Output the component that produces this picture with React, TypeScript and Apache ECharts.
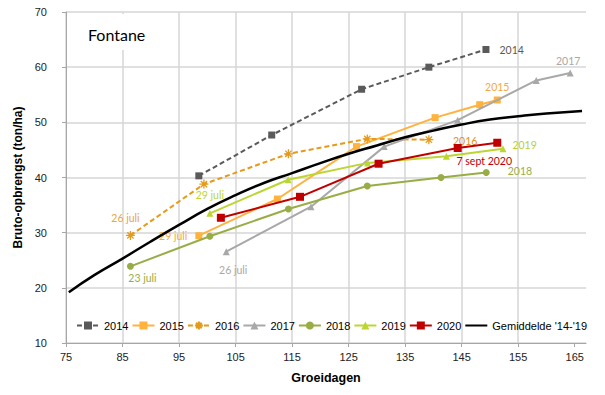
import React, { useEffect, useRef } from "react";
import * as echarts from "echarts";

// ---------- data ----------
const xTickValues = [75, 85, 95, 105, 115, 125, 135, 145, 155, 165];
const yTickValues = [10, 20, 30, 40, 50, 60, 70];

const days2014 = [98.5, 111.4, 127.3, 139.2, 149.3];
const yield2014 = [40.3, 47.7, 56.0, 60.0, 63.2];

const days2015 = [98.5, 112.4, 126.4, 140.3, 148.2, 151.3];
const yield2015 = [29.45, 36.1, 45.6, 50.85, 53.2, 54.05];

const days2016 = [86.4, 99.4, 114.35, 128.3, 139.2];
const yield2016 = [29.5, 38.8, 44.3, 47.0, 46.85];

const days2017 = [103.35, 118.35, 131.3, 144.3, 158.2, 164.2];
const yield2017 = [26.55, 34.7, 45.6, 50.4, 57.6, 58.95];

const days2018 = [86.4, 100.45, 114.35, 128.3, 141.35, 149.35];
const yield2018 = [23.9, 29.35, 34.3, 38.45, 40.0, 40.9];

const days2019 = [100.45, 114.3, 128.35, 142.3, 152.3];
const yield2019 = [33.5, 39.6, 42.65, 43.85, 45.2];

const days2020 = [102.4, 116.4, 130.3, 144.3, 151.3];
const yield2020 = [32.7, 36.5, 42.5, 45.35, 46.3];

const meanDays = [75.5, 80, 85, 90, 95, 100, 105, 110, 115, 120, 125, 130, 135, 140, 145, 150, 155, 160, 166.3];
const meanYield = [19.2, 22.3, 25.3, 28.4, 31.4, 34.3, 36.8, 39.0, 40.8, 42.6, 44.3, 45.8, 47.3, 48.5, 49.6, 50.5, 51.1, 51.6, 52.05];

const seriesNames = ["2014", "2015", "2016", "2017", "2018", "2019", "2020", "Gemiddelde '14-'19"];
const startLabels = ["", "29 juli", "26 juli", "26 juli", "23 juli", "29 juli", ""];
const endLabels = ["2014", "2015", "2016", "2017", "2018", "2019", "7 sept 2020"];

// ---------- styles ----------
const colors = ["#5A5A5A", "#FFB23E", "#E69A1A", "#A8A8A8", "#98AD45", "#BCD631", "#C00000", "#000000"];
const startLabelColors = ["", "#F7A93A", "#EDA246", "#A8A8A8", "#98AD45", "#BCD631", ""];
const endLabelColors = ["#5A5A5A", "#F5A938", "#DF9020", "#A8A8A8", "#98AD45", "#B8D12E", "#C00000"];

const startLabelPos: any[] = [
  null,
  { position: "left", distance: 8, offset: [0, 0] },
  { position: "top", distance: 7, offset: [-5, 0] },
  { position: "bottom", distance: 9, offset: [7, 0] },
  { position: "bottom", distance: 3, offset: [12, 0] },
  { position: "top", distance: 9, offset: [0, 0] },
  null,
];
const endLabelPos: any[] = [
  { position: "right", distance: 10, offset: [0, 0] },
  { position: "top", distance: 4, offset: [0, 0] },
  { position: "right", distance: 19, offset: [0, 1] },
  { position: "top", distance: 3, offset: [-2, 0] },
  { position: "right", distance: 18, offset: [0, -2] },
  { position: "right", distance: 6, offset: [0, -4] },
  { position: "bottom", distance: 9, offset: [-13, 0] },
];

const ASTERISK = "path://M0,5 L10,5 M5,0 L5,10 M1.5,1.5 L8.5,8.5 M8.5,1.5 L1.5,8.5";
const symbols = ["rect", "rect", ASTERISK, "triangle", "circle", "triangle", "rect"];
const symbolSizes = [7, 7, 9, 7, 7, 7, 8];
const dashed = [true, false, true, false, false, false, false];

const yearDays = [days2014, days2015, days2016, days2017, days2018, days2019, days2020];
const yearYields = [yield2014, yield2015, yield2016, yield2017, yield2018, yield2019, yield2020];

const LABEL_FONT = "Lato, 'Open Sans', sans-serif";
const AXIS_FONT = "'Liberation Sans Narrow', 'Arial Narrow', 'Liberation Sans', sans-serif";

function buildYearSeries(i: number) {
  const d = yearDays[i];
  const v = yearYields[i];
  const data = d.map((x, k) => {
    const item: any = { value: [x, v[k]] };
    if (k === 0 && startLabels[i]) {
      item.label = {
        show: true,
        formatter: startLabels[i],
        color: startLabelColors[i],
        fontFamily: LABEL_FONT,
        fontSize: 10.5,
        ...startLabelPos[i],
      };
    }
    if (k === d.length - 1) {
      item.label = {
        show: true,
        formatter: endLabels[i],
        color: endLabelColors[i],
        fontFamily: LABEL_FONT,
        fontSize: 10.5,
        ...endLabelPos[i],
      };
    }
    return item;
  });
  const isAst = symbols[i] === ASTERISK;
  return {
    name: seriesNames[i],
    type: "line",
    data,
    symbol: symbols[i],
    symbolSize: symbolSizes[i],
    showAllSymbol: true,
    z: 3 + i,
    lineStyle: { color: colors[i], width: 2, type: dashed[i] ? [5, 3] : "solid" },
    itemStyle: isAst
      ? { color: colors[i], borderColor: colors[i], borderWidth: 1.3 }
      : { color: colors[i], borderWidth: 0 },
    label: { show: false },
    emphasis: { disabled: true },
  };
}

export default function App() {
  const ref = useRef<HTMLDivElement>(null);

  useEffect(() => {
    if (!ref.current) return;
    const chart = echarts.init(ref.current, null, { renderer: "svg" });

    const series: any[] = [0, 1, 2, 3, 4, 5, 6].map(buildYearSeries);
    series.push({
      name: seriesNames[7],
      type: "line",
      data: meanDays.map((x, k) => [x, meanYield[k]]),
      smooth: true,
      symbol: "none",
      z: 12,
      lineStyle: { color: colors[7], width: 2.5 },
      itemStyle: { color: colors[7] },
      emphasis: { disabled: true },
    });

    const legendData: any[] = seriesNames.map((n, i) =>
      i === 7 ? { name: n, itemStyle: { color: "rgba(0,0,0,0)", borderWidth: 0 } } : { name: n }
    );

    const option: any = {
      animation: false,
      backgroundColor: "#ffffff",
      grid: { left: 66, right: 19, top: 12, bottom: 52, containLabel: false, outerBoundsMode: "none" },
      xAxis: {
        type: "value",
        min: 75,
        max: 167,
        interval: 5,
        name: "Groeidagen",
        nameLocation: "middle",
        nameGap: 28,
        nameTextStyle: { fontFamily: AXIS_FONT, fontSize: 12.5, fontWeight: "bold", color: "#000" },
        axisLine: { show: true, lineStyle: { color: "#A6A6A6", width: 1 } },
        axisTick: { show: true, customValues: xTickValues, length: 4, lineStyle: { color: "#A6A6A6" } },
        axisLabel: {
          customValues: xTickValues,
          margin: 8,
          fontFamily: AXIS_FONT,
          fontSize: 11,
          color: "#222",
        },
        splitLine: { show: true, showMaxLine: false, lineStyle: { color: "#D6D6D6", width: 1.5 } },
      },
      yAxis: {
        type: "value",
        min: 10,
        max: 70,
        interval: 5,
        name: "Bruto-opbrengst (ton/ha)",
        nameLocation: "middle",
        nameGap: 38,
        nameTextStyle: { fontFamily: AXIS_FONT, fontSize: 12, fontWeight: "bold", color: "#000" },
        axisLine: { show: true, lineStyle: { color: "#A6A6A6", width: 1 } },
        axisTick: { show: true, customValues: yTickValues, length: 4, lineStyle: { color: "#A6A6A6" } },
        axisLabel: {
          customValues: yTickValues,
          margin: 19,
          fontFamily: AXIS_FONT,
          fontSize: 11,
          color: "#222",
        },
        splitLine: { show: true, lineStyle: { color: "#D6D6D6", width: 1.5 } },
      },
      legend: {
        data: legendData,
        left: 76,
        top: 320,
        padding: 0,
        itemWidth: 22,
        itemHeight: 10,
        itemGap: 3,
        textStyle: { fontFamily: "'Liberation Sans', Arial, sans-serif", fontSize: 11, color: "#000" },
        selectedMode: false,
      },
      graphic: [
        {
          type: "rect",
          left: 82,
          top: 14,
          shape: { width: 69, height: 36 },
          style: { fill: "#ffffff" },
          z: 20,
        },
        {
          type: "text",
          left: 88,
          top: 26,
          style: { text: "Fontane", fontFamily: "Lato, 'Open Sans', sans-serif", fontSize: 16, fill: "#000" },
          z: 21,
        },
      ],
      series,
    };

    chart.setOption(option);
    return () => chart.dispose();
  }, []);

  return <div ref={ref} style={{ position: "absolute", left: 0, top: 0, width: 605, height: 395 }} />;
}
